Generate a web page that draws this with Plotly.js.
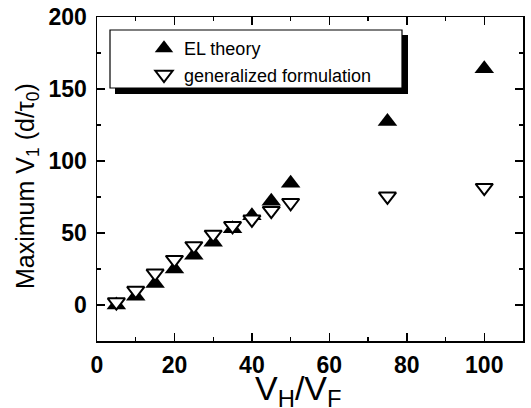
<!DOCTYPE html>
<html>
<head>
<meta charset="utf-8">
<script src="https://cdn.plot.ly/plotly-3.0.1.min.js"></script>
<style>html,body{margin:0;padding:0;background:#fff;}#chart{width:531px;height:408px;}</style>
</head>
<body>
<div id="chart"></div>
<script>
var ratio = [5, 10, 15, 20, 25, 30, 35, 40, 45, 50, 75, 100];
var elTheory = [0, 6, 15, 25, 34.5, 43.5, 53, 62, 72, 84.5, 127.5, 164];
var generalized = [2, 10, 22, 31.5, 41, 49, 55, 59.5, 65.5, 71, 75.5, 81.5];
var seriesNames = ['EL theory', 'generalized formulation'];
var xTitle = 'V<sub>H</sub>/V<sub>F</sub>';
var yTitle = 'Maximum V<sub>1</sub> (d/τ<sub>0</sub>)';

var W = 531, H = 408;
var M = {l: 97, r: 8, t: 17, b: 67};
var PW = W - M.l - M.r, PH = H - M.t - M.b;
function px(x) { return (x - M.l) / PW; }
function py(y) { return (H - M.b - y) / PH; }

var traces = [
  {x: ratio, y: elTheory, name: seriesNames[0], type: 'scatter', mode: 'markers',
   marker: {symbol: 'triangle-up', size: 17, color: '#000', line: {width: 0}}},
  {x: ratio, y: generalized, name: seriesNames[1], type: 'scatter', mode: 'markers',
   marker: {symbol: 'triangle-down', size: 15, color: '#fff', line: {width: 2, color: '#000'}}}
];

var tickFont = {family: '"Liberation Sans", Arial, sans-serif', size: 23, color: '#000', weight: 'bold'};

var layout = {
  width: W, height: H,
  margin: M,
  paper_bgcolor: '#fff', plot_bgcolor: '#fff',
  showlegend: true,
  legend: {x: px(144), y: py(30), xanchor: 'left', yanchor: 'top', bgcolor: 'rgba(0,0,0,0)', borderwidth: 0,
           font: {family: '"Liberation Sans", Arial, sans-serif', size: 18, color: '#000'}, tracegroupgap: 0},
  xaxis: {range: [0, 110], dtick: 20, tick0: 0, ticks: 'inside', ticklen: 8, tickwidth: 1.5, tickcolor: '#000',
          showline: true, linecolor: '#000', linewidth: 1.5, mirror: 'ticks', showgrid: false, zeroline: false,
          tickfont: tickFont, ticklabelstandoff: 3,
          minor: {dtick: 10, ticks: 'inside', ticklen: 4, tickwidth: 1.2, tickcolor: '#000', showgrid: false}},
  yaxis: {range: [-25, 200], dtick: 50, tick0: 0, ticks: 'inside', ticklen: 8, tickwidth: 1.5, tickcolor: '#000',
          showline: true, linecolor: '#000', linewidth: 1.5, mirror: 'ticks', showgrid: false, zeroline: false,
          tickfont: tickFont, ticklabelstandoff: 4,
          minor: {dtick: 25, ticks: 'inside', ticklen: 4, tickwidth: 1.2, tickcolor: '#000', showgrid: false}},
  shapes: [
    {type: 'rect', xref: 'paper', yref: 'paper', x0: px(115), x1: px(408), y0: py(94), y1: py(35),
     fillcolor: '#000', line: {width: 0}, layer: 'above'},
    {type: 'rect', xref: 'paper', yref: 'paper', x0: px(110), x1: px(402), y0: py(88), y1: py(30),
     fillcolor: '#fff', line: {width: 1.2, color: '#000'}, layer: 'above'}
  ],
  annotations: [
    {text: xTitle, xref: 'paper', yref: 'paper', x: px(298), y: py(390), xanchor: 'center', yanchor: 'middle',
     showarrow: false, font: {family: '"Liberation Sans", Arial, sans-serif', size: 34, color: '#000'}},
    {text: yTitle, xref: 'paper', yref: 'paper', x: px(27), y: py(186), xanchor: 'center', yanchor: 'middle',
     textangle: -90, showarrow: false, font: {family: '"Liberation Sans", Arial, sans-serif', size: 25, color: '#000'}}
  ]
};

Plotly.newPlot('chart', traces, layout, {displayModeBar: false, staticPlot: true});
</script>
</body>
</html>
